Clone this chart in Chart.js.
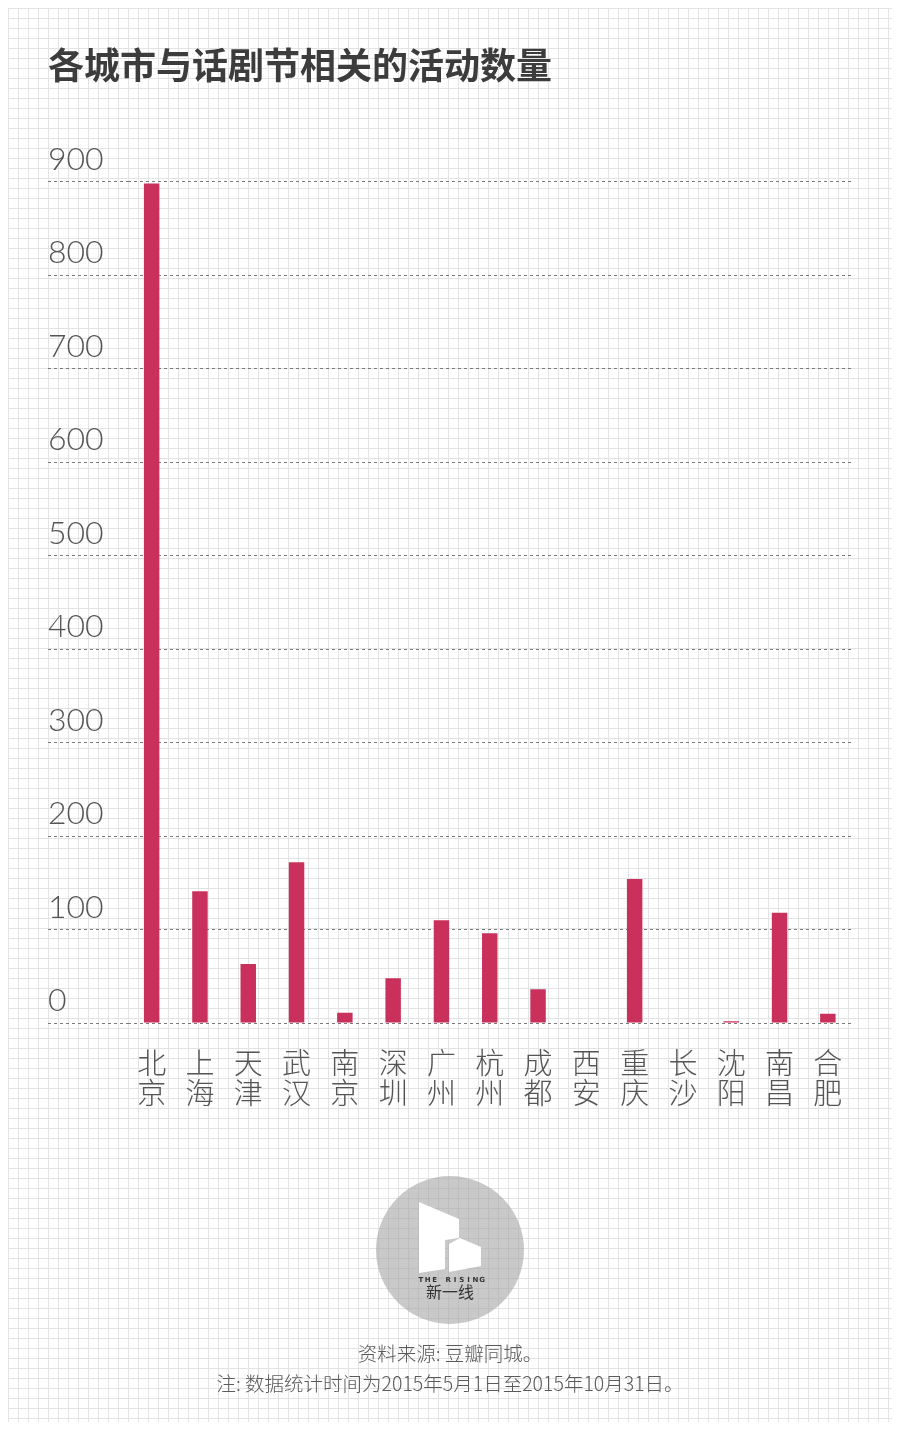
<!DOCTYPE html>
<html>
<head>
<meta charset="utf-8">
<script src="https://cdn.jsdelivr.net/npm/chart.js@4.4.0/dist/chart.umd.min.js"></script>
<style>
  body { margin: 0; background: #fff; }
  .paper {
    position: absolute; left: 8px; top: 8px; width: 884px; height: 1414px;
    background-color: #fff;
    background-image:
      linear-gradient(to right, #e3e3e3 1px, transparent 1px),
      linear-gradient(to bottom, #e3e3e3 1px, transparent 1px);
    background-size: 10px 10px;
  }
  .wrap { position: absolute; left: 0; top: 0; width: 900px; height: 1430px; }
</style>
</head>
<body>
<div class="paper"></div>
<div class="wrap"><canvas class="js-chart" width="900" height="1430"></canvas></div>
<script>
const cities = [
  ["北", "京"], ["上", "海"], ["天", "津"], ["武", "汉"], ["南", "京"],
  ["深", "圳"], ["广", "州"], ["杭", "州"], ["成", "都"], ["西", "安"],
  ["重", "庆"], ["长", "沙"], ["沈", "阳"], ["南", "昌"], ["合", "肥"]
];
const counts = [898, 141, 63, 172, 11, 48, 110, 96, 36, 0, 154, 0, 2, 118, 10];
const yTicks = [0, 100, 200, 300, 400, 500, 600, 700, 800, 900];

const titleText = "各城市与话剧节相关的活动数量";
const sourceText = ["资料来源: 豆瓣同城。", "注: 数据统计时间为2015年5月1日至2015年10月31日。"];

const cjk = "'Noto Sans CJK SC', 'Noto Sans', sans-serif";
const ctx = document.querySelector(".js-chart").getContext("2d");

// logo circle under the footer
const logoPlugin = {
  id: "logo",
  afterDraw(chart) {
    const c = chart.ctx;
    c.save();
    c.fillStyle = "rgba(165,165,165,0.6)";
    c.beginPath();
    c.arc(450, 1250, 74, 0, Math.PI * 2);
    c.fill();

    c.fillStyle = "#fff";
    c.beginPath();
    c.moveTo(419, 1202);
    c.lineTo(459, 1219);
    c.lineTo(459, 1238);
    c.lineTo(445, 1240);
    c.lineTo(445, 1269);
    c.lineTo(419, 1273);
    c.closePath();
    c.fill();
    c.beginPath();
    c.moveTo(449, 1244);
    c.lineTo(460, 1238);
    c.lineTo(481, 1247);
    c.lineTo(481, 1266);
    c.lineTo(449, 1272);
    c.closePath();
    c.fill();

    c.fillStyle = "#333";
    c.font = "bold 7px 'DejaVu Sans', sans-serif";
    c.textAlign = "center";
    c.textBaseline = "middle";
    "THE RISING".split("").forEach((ch, i) => {
      c.fillText(ch, 421 + i * 6.8, 1280);
    });
    c.font = "16px " + cjk;
    c.fillText("新一线", 450, 1292);
    c.restore();
  }
};

new Chart(ctx, {
  type: "bar",
  data: {
    labels: cities,
    datasets: [
      {
        label: "活动数量",
        data: counts,
        backgroundColor: "#c9305b",
        borderWidth: 0,
        barPercentage: 0.32,
        categoryPercentage: 1,
      },
    ],
  },
  options: {
    responsive: false,
    animation: false,
    layout: { padding: { left: 48, right: 48, top: 0, bottom: 0 } },
    plugins: {
      legend: { display: false },
      tooltip: { enabled: false },
      title: {
        display: true,
        text: titleText,
        align: "start",
        color: "#3c3c3c",
        font: { family: cjk, size: 36, weight: "bold", lineHeight: 1.2 },
        padding: { top: 44, bottom: 94.5 },
      },
      subtitle: {
        display: true,
        position: "bottom",
        text: sourceText,
        color: "#5a5a5a",
        font: { family: cjk, size: 19.5, weight: 300, lineHeight: "30px" },
        padding: { top: 0, bottom: 31 },
      },
    },
    scales: {
      x: {
        grid: { display: false, drawTicks: false },
        border: { display: false },
        ticks: {
          color: "#555",
          font: { family: cjk, size: 29, weight: 300, lineHeight: "30px" },
          padding: 25,
          maxRotation: 0,
          autoSkip: false,
        },
        afterFit(scale) {
          scale.height = 316;
        },
      },
      y: {
        min: 0,
        max: 900,
        afterBuildTicks(scale) {
          scale.ticks = yTicks.map((v) => ({ value: v }));
        },
        grid: {
          color: "#7a7a7a",
          lineWidth: 1,
          drawTicks: true,
          tickLength: 79.5,
          tickColor: "#7a7a7a",
          tickBorderDash: [3, 3],
        },
        border: { display: false, dash: [3, 3] },
        ticks: {
          color: "#555",
          font: { family: "Lato, 'DejaVu Sans', sans-serif", size: 32, weight: 300 },
          crossAlign: "far",
          labelOffset: -22,
          padding: 0,
        },
        afterFit(scale) {
          scale.width = 79.5;
        },
      },
    },
  },
  plugins: [logoPlugin],
});
</script>
</body>
</html>
